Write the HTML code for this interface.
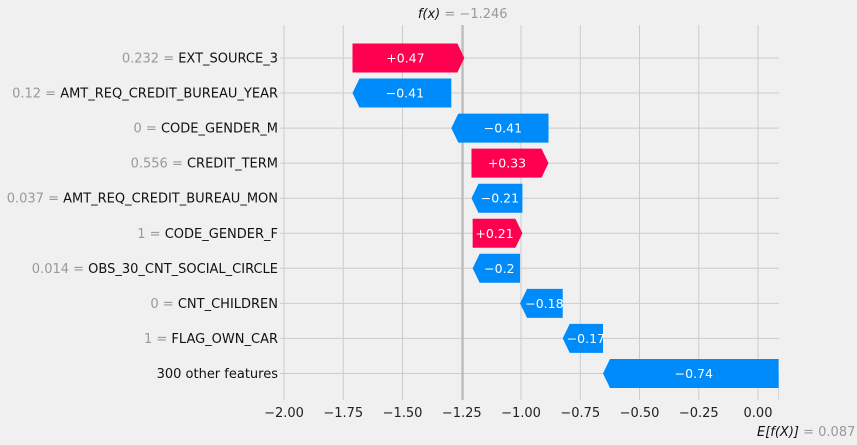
<!DOCTYPE html>
<html><head><meta charset="utf-8"><style>
html,body{margin:0;padding:0;background:#f0f0f0;}
svg{display:block;font-family:"DejaVu Sans","Liberation Sans",sans-serif;}
</style></head><body>
<svg id="chart" width="857" height="445" viewBox="0 0 857 445"></svg>
<script>
const featureNames = ["EXT_SOURCE_3","AMT_REQ_CREDIT_BUREAU_YEAR","CODE_GENDER_M","CREDIT_TERM","AMT_REQ_CREDIT_BUREAU_MON","CODE_GENDER_F","OBS_30_CNT_SOCIAL_CIRCLE","CNT_CHILDREN","FLAG_OWN_CAR","300 other features"];
const featureValues = ["0.232","0.12","0","0.556","0.037","1","0.014","0","1",""];
const shapValues = [0.472,-0.417,-0.41,0.325,-0.215,0.21,-0.2,-0.18,-0.17,-0.741];
const shapLabels = ["+0.47","\u22120.41","\u22120.41","+0.33","\u22120.21","+0.21","\u22120.2","\u22120.18","\u22120.17","\u22120.74"];
const baseValue = 0.087;
const fxValue = -1.246;
const xTicks = [-2,-1.75,-1.5,-1.25,-1,-0.75,-0.5,-0.25,0];
const xTickLabels = ["\u22122.00","\u22121.75","\u22121.50","\u22121.25","\u22121.00","\u22120.75","\u22120.50","\u22120.25","0.00"];

const NS="http://www.w3.org/2000/svg";
const svg=document.getElementById('chart');
const X=v=>758+v*237;
const Y=i=>58+i*35.05;
function mk(t,a,p){const e=document.createElementNS(NS,t);for(const k in a)e.setAttribute(k,a[k]);(p||svg).appendChild(e);return e;}
const topY=25,botY=400,leftX=280,rightX=779;
xTicks.forEach((t,i)=>{
  const g=mk('line',{x1:X(t),x2:X(t),y1:topY,y2:botY,stroke:'#cbcbcb','stroke-width':1});
  
  
  const tx=mk('text',{x:X(t),y:417,'text-anchor':'middle','font-size':13,fill:'#222'});
  tx.textContent=xTickLabels[i];
  
  
});
featureNames.forEach((n,i)=>{
  const g=mk('line',{x1:leftX,x2:rightX,y1:Y(i),y2:Y(i),stroke:'#cbcbcb','stroke-width':1});
  
  
  const t=mk('text',{x:278,y:Y(i)+4.5,'text-anchor':'end','font-size':13});
  
  
  if(featureValues[i]!==""){const s=mk('tspan',{fill:'#999'},t);s.textContent=featureValues[i]+" = ";}
  const s2=mk('tspan',{fill:'#111'},t);s2.textContent=n;
});
const fl=mk('line',{x1:X(fxValue),x2:X(fxValue),y1:topY,y2:botY,stroke:'#bbbbbb','stroke-width':2});


const el=mk('line',{x1:X(baseValue),x2:X(baseValue),y1:Y(9),y2:botY,stroke:'#bbbbbb','stroke-width':1,'stroke-dasharray':'1,1'});


let cum=baseValue;
const ends=[];
for(let i=shapValues.length-1;i>=0;i--){const s=cum;cum+=shapValues[i];ends[i]=[s,cum];}
shapValues.forEach((v,i)=>{
  const a=ends[i][0],b=ends[i][1];
  const x0=X(Math.min(a,b)),x1=X(Math.max(a,b));
  const y=Y(i),h=14.5,head=7;
  let pts;
  if(v>0){pts=[[x0,y-h],[x1-head,y-h],[x1,y],[x1-head,y+h],[x0,y+h]];}
  else{pts=[[x1,y-h],[x0+head,y-h],[x0,y],[x0+head,y+h],[x1,y+h]];}
  const p=mk('polygon',{points:pts.map(q=>q.join(',')).join(' '),fill:v>0?'#ff0051':'#008bfb'});
  
  
  const t=mk('text',{x:(x0+x1)/2+(v>0?-3:3),y:y+4.5,'text-anchor':'middle','font-size':12.5,fill:'#fff'});
  t.textContent=shapLabels[i];
  
  
});
const ft=mk('text',{x:X(fxValue),y:18,'text-anchor':'middle','font-size':13});


mk('tspan',{fill:'#111','font-style':'italic'},ft).textContent='f(x)';
mk('tspan',{fill:'#999'},ft).textContent=' = \u22121.246';
const bt=mk('text',{x:757,y:436,'text-anchor':'start','font-size':13});


mk('tspan',{fill:'#111','font-style':'italic'},bt).textContent='E[f(X)]';
mk('tspan',{fill:'#999'},bt).textContent=' = 0.087';
</script>
</body></html>
